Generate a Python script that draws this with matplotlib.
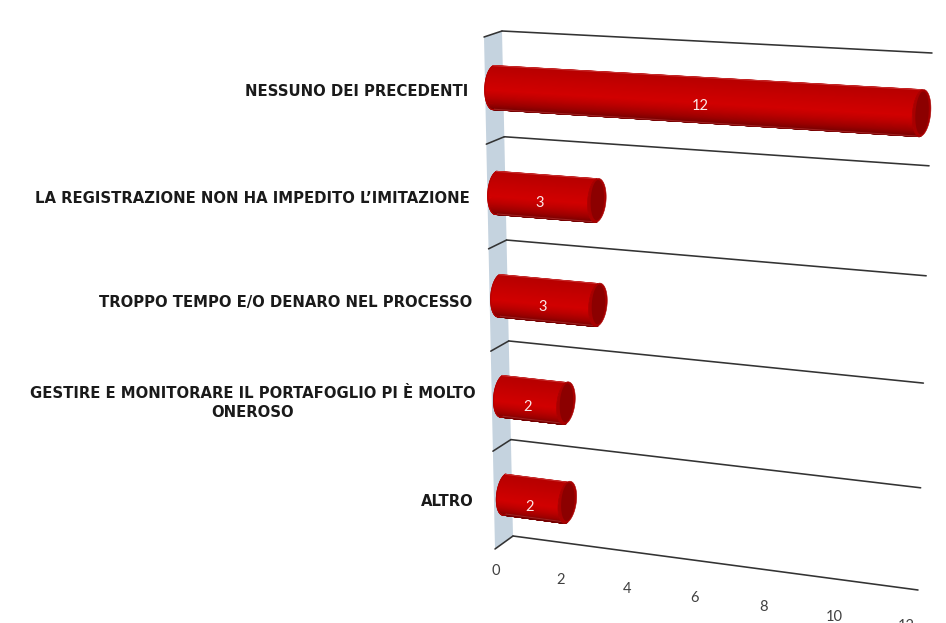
import numpy as np
import matplotlib
matplotlib.use("Agg")
import matplotlib.pyplot as plt
from matplotlib.colors import LinearSegmentedColormap

categories = ["NESSUNO DEI PRECEDENTI", "LA REGISTRAZIONE NON HA IMPEDITO L’IMITAZIONE",
              "TROPPO TEMPO E/O DENARO NEL PROCESSO",
              "GESTIRE E MONITORARE IL PORTAFOGLIO PI È MOLTO\nONEROSO", "ALTRO"]
values = [12, 3, 3, 2, 2]
ticks = [0, 2, 4, 6, 8, 10, 12]
VMAX = 12
N = len(categories)

W, H = 946, 623
fig = plt.figure(figsize=(W / 100, H / 100), dpi=100, facecolor="white")
ax = fig.add_axes([0, 0, 1, 1])
ax.set_xlim(0, W)
ax.set_ylim(H, 0)
ax.axis("off")

# Perspective projection of the chart's plane, fitted on its corners
src = np.array([[0, 0], [1, 0], [1, 1], [0, 1]], float)
dst = np.array([[502, 31], [932, 53], [918, 590], [513, 536]], float)
A, b = [], []
for (s, t), (x, y) in zip(src, dst):
    A.append([s, t, 1, 0, 0, 0, -s * x, -t * x]); b.append(x)
    A.append([0, 0, 0, s, t, 1, -s * y, -t * y]); b.append(y)
h = np.append(np.linalg.solve(np.array(A), np.array(b)), 1).reshape(3, 3)


def project(value, pos, depth=0.0):
    value, pos, depth = np.broadcast_arrays(np.asarray(value, float), np.asarray(pos, float), np.asarray(depth, float))
    s, t = value / VMAX, pos / N
    w = h[2, 0] * s + h[2, 1] * t + h[2, 2]
    x = (h[0, 0] * s + h[0, 1] * t + h[0, 2]) / w
    y = (h[1, 0] * s + h[1, 1] * t + h[1, 2]) / w
    return x - 18 * depth, y + (6 + 7 * t) * depth


# Side wall
pp = np.array([0, N, N, 0.0])
dd = np.array([0, 0, 1, 1.0])
wx, wy = project(0, pp, dd)
ax.fill(wx, wy, color="#c5d3df", lw=0, zorder=1)

# Grid lines and their front ticks
for p in range(N + 1):
    x, y = project([0, VMAX], p)
    ax.plot(x, y, color="#333333", lw=1.15, zorder=2, solid_capstyle="round")
    x, y = project(0, p, [0, 1])
    ax.plot(x, y, color="#333333", lw=1.15, zorder=2, solid_capstyle="round")

# Cylinders
shade = LinearSegmentedColormap.from_list("shade", [
    (0.00, "#b80000"), (0.22, "#c60000"), (0.48, "#d20000"),
    (0.62, "#c00000"), (0.80, "#a00000"), (1.00, "#760000")])
R, D, C = 0.205, 0.52, 0.5
ang = np.linspace(-np.pi / 2, np.pi / 2, 61)
full = np.linspace(0, 2 * np.pi, 90)
for i, val in enumerate(values):
    c = i + 0.5
    nudge = 0.7 * i
    pos = c + R * np.sin(ang)
    dep = C + D * np.cos(ang)
    x0, y0 = project(0, pos, dep)
    x1, y1 = project(val, pos, dep)
    x0 = x0 + nudge
    X = np.vstack([x0, x1])
    Y = np.vstack([y0, y1])
    Z = np.vstack([(np.sin(ang) + 1) / 2] * 2)
    ax.pcolormesh(X, Y, Z, shading="gouraud", cmap=shade, vmin=0, vmax=1, zorder=3)
    # soft outline of the body
    ax.plot(x0, y0, color="#b40000", lw=0.8, zorder=3)
    ax.plot([x0[0], x1[0]], [y0[0], y1[0]], color="#c83030", lw=0.8, zorder=3)
    ax.plot([x0[-1], x1[-1]], [y0[-1], y1[-1]], color="#a02020", lw=0.8, zorder=3)
    # end cap
    x, y = project(val, c + R * np.sin(full), C + D * np.cos(full))
    ax.fill(x, y, color="#a80000", lw=0.4, zorder=4)
    x, y = project(val, c + 0.92 * R * np.sin(full), C - 0.03 + 0.72 * D * np.cos(full))
    ax.fill(x, y, color="#8c0000", lw=0, zorder=4)
    tx, ty = project(val * 0.52, c + 0.02, 1)
    ax.text(tx + nudge, ty, str(val), color="#fbe9e9", fontsize=10.5, family="Lato",
            ha="center", va="center", zorder=5)

# Category labels
label_dx = [-17, -18, -17, -16, -20]
label_dy = [1, 2, 2, 1.5, 1]
for i, cat in enumerate(categories):
    x, y = project(0, i + 0.5, 1)
    ax.text(x + label_dx[i], y + label_dy[i], cat, ha="right", va="center", multialignment="center",
            family="DejaVu Sans", fontweight="bold", fontsize=10.7, color="#1a1a1a",
            linespacing=1.35, zorder=5)

# Value axis labels
for t in ticks:
    x, y = project(t, N, 1)
    ax.text(x + 1 + 0.4 * t, y + 22 + 0.1 * t, str(t), color="#404040", fontsize=10.5, family="Lato",
            ha="center", va="center", zorder=5)

fig.savefig("out.png", dpi=100, facecolor="white")
